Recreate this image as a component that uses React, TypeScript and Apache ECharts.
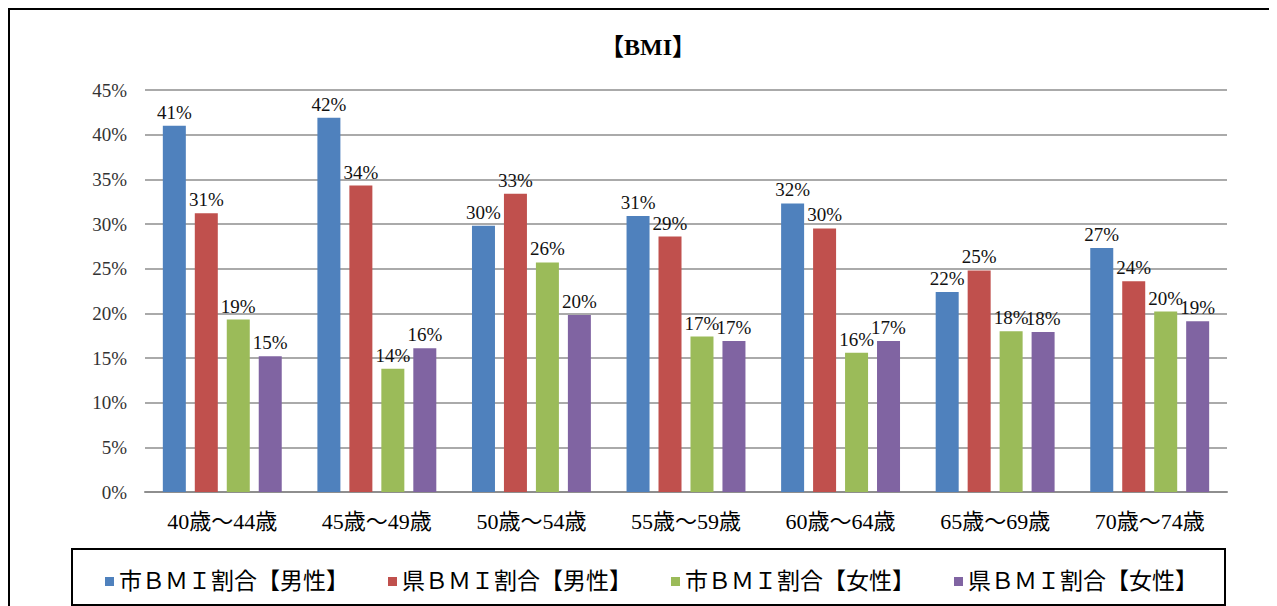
import React, { useEffect, useRef } from "react";
import * as echarts from "echarts";

const categories = ["40歳～44歳", "45歳～49歳", "50歳～54歳", "55歳～59歳", "60歳～64歳", "65歳～69歳", "70歳～74歳"];
const seriesNames = ["市ＢＭＩ割合【男性】", "県ＢＭＩ割合【男性】", "市ＢＭＩ割合【女性】", "県ＢＭＩ割合【女性】"];
const cityMale = [41.0, 41.9, 29.8, 30.9, 32.3, 22.4, 27.3];
const prefMale = [31.2, 34.3, 33.4, 28.6, 29.5, 24.8, 23.6];
const cityFemale = [19.3, 13.8, 25.7, 17.4, 15.6, 18.0, 20.2];
const prefFemale = [15.2, 16.1, 19.8, 16.9, 16.9, 17.9, 19.1];
const colors = ["#4F81BD", "#C0504D", "#9BBB59", "#8064A2"];

const serif = "Liberation Serif, Noto Sans CJK JP, serif";

export default function App() {
  const ref = useRef<HTMLDivElement>(null);
  useEffect(() => {
    document.documentElement.style.overflow = "hidden";
    const chart = echarts.init(ref.current!, undefined, { renderer: "svg" });
    const values = [cityMale, prefMale, cityFemale, prefFemale];
    chart.setOption({
      animation: false,
      color: colors,
      grid: { left: 137, right: 44, top: 82, bottom: 114, containLabel: false },
      graphic: [
        { type: "rect", shape: { x: 1, y: 1, width: 1261, height: 640 }, style: { fill: "none", stroke: "#000", lineWidth: 2 }, silent: true },
        { type: "rect", shape: { x: 64, y: 541, width: 1153, height: 56 }, style: { fill: "none", stroke: "#000", lineWidth: 2 }, silent: true },
        {
          type: "text", x: 640, y: 39,
          style: { text: "【BMI】", fontFamily: serif, fontWeight: "bold", fontSize: 24, fill: "#000", textAlign: "center", textVerticalAlign: "middle" },
        },
      ],
      legend: {
        data: seriesNames,
        left: 92,
        top: 557,
        itemWidth: 9,
        itemHeight: 9,
        itemGap: 39,
        icon: "rect",
        textStyle: { fontFamily: serif, fontSize: 23, color: "#000" },
      },
      xAxis: {
        type: "category",
        data: categories,
        axisTick: { show: false },
        axisLine: { lineStyle: { color: "#8e8e8e", width: 2 } },
        axisLabel: { fontFamily: serif, fontSize: 22, color: "#000", margin: 18 },
      },
      yAxis: {
        type: "value",
        min: 0,
        max: 45,
        interval: 5,
        axisLine: { show: false },
        axisTick: { show: false },
        splitLine: { lineStyle: { color: "#8e8e8e", width: 1.5 } },
        axisLabel: { fontFamily: serif, fontSize: 19, color: "#333", margin: 18, formatter: "{value}%" },
      },
      series: seriesNames.map((name, i) => ({
        name,
        type: "bar",
        data: values[i],
        barWidth: 23,
        barGap: "39%",
        itemStyle: { color: colors[i] },
        label: {
          show: true,
          position: "top",
          distance: 4,
          fontFamily: serif,
          fontSize: 19,
          color: "#111",
          formatter: (p: any) => Math.round(p.value) + "%",
        },
      })),
    });
    return () => chart.dispose();
  }, []);
  return <div ref={ref} style={{ width: 1263, height: 598 }} />;
}
